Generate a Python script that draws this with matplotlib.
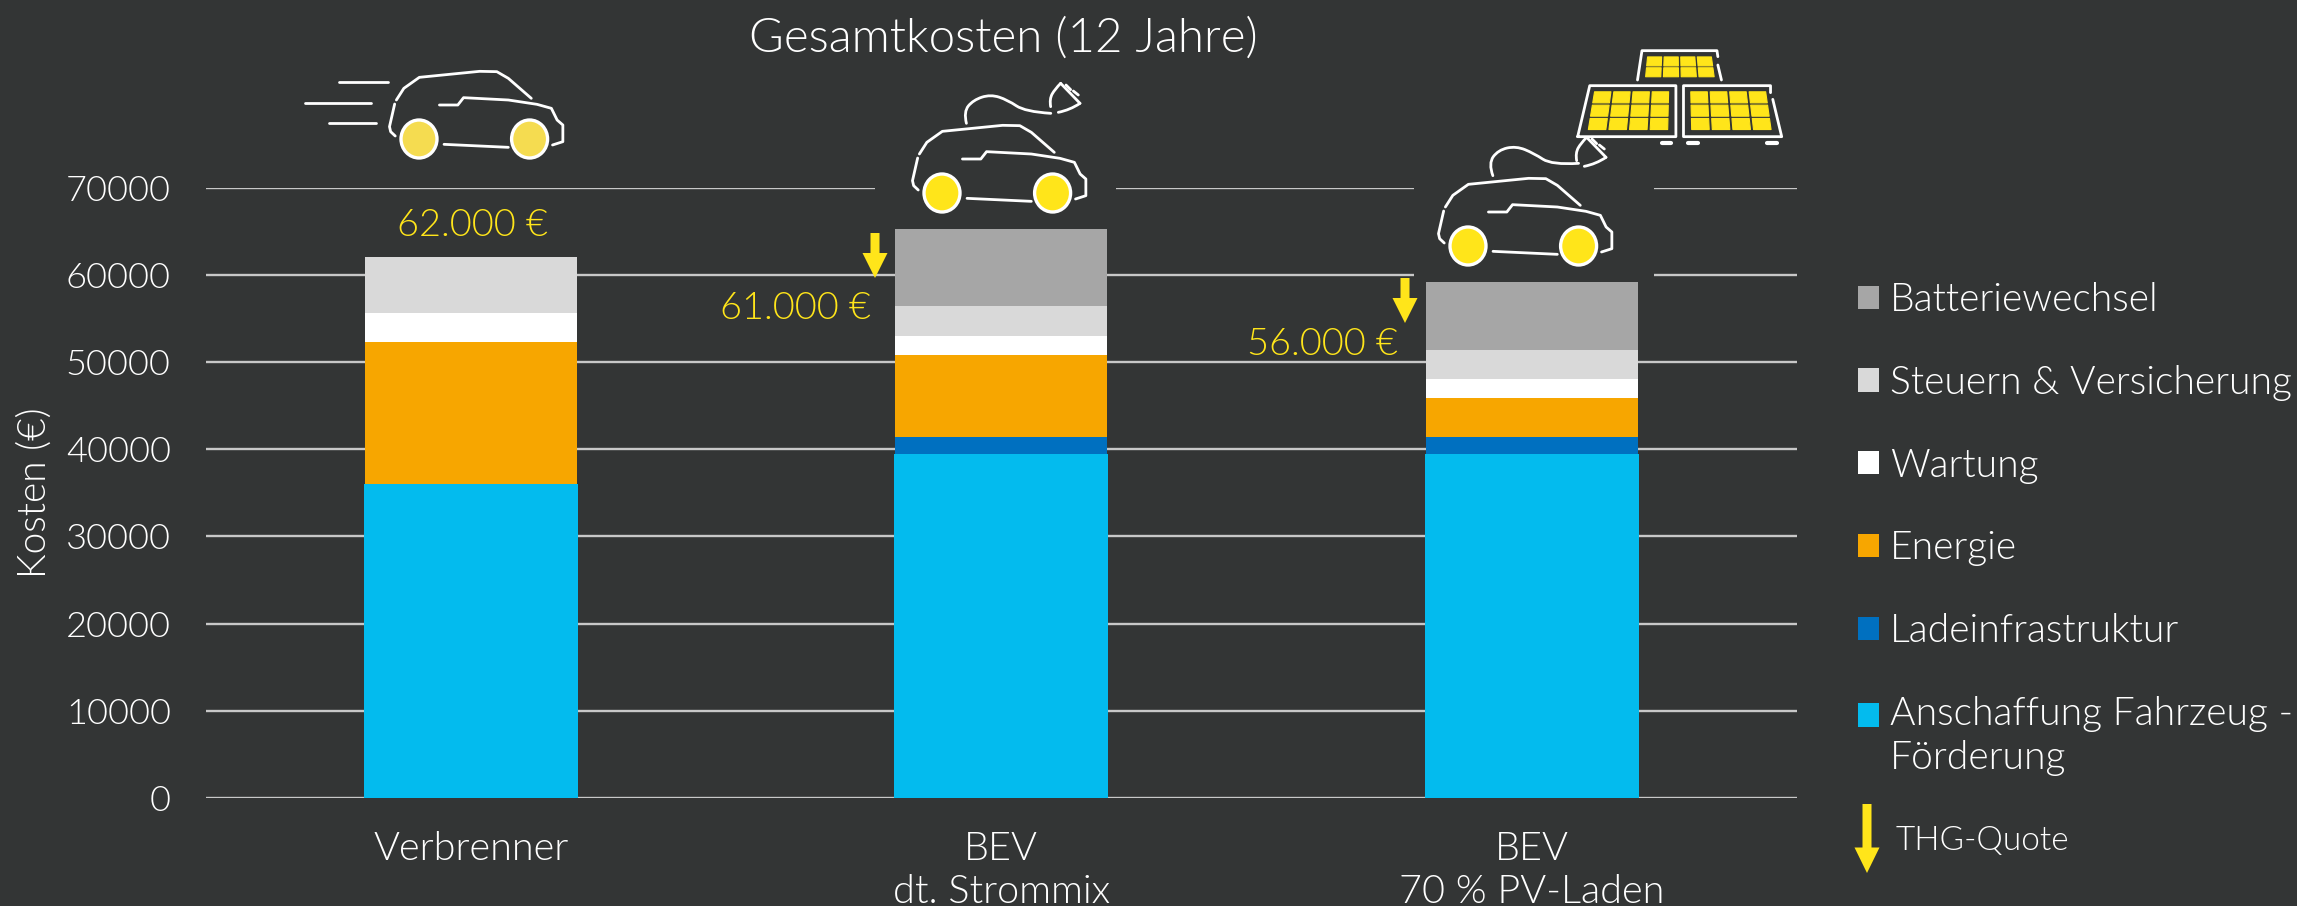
import matplotlib
matplotlib.use("Agg")
import matplotlib.pyplot as plt
import numpy as np
from matplotlib.path import Path
from matplotlib.patches import PathPatch, Ellipse, Polygon, Rectangle

W, H = 2297, 906
BG = "#333535"
YEL = "#FFE51A"

categories = ["Verbrenner", "BEV\ndt. Strommix", "BEV\n70 % PV-Laden"]
anschaffung = [36000, 39500, 39500]
ladeinfra = [0, 1950, 1950]
energie = [16300, 9400, 4450]
wartung = [3350, 2150, 2150]
steuern = [6350, 3450, 3350]
batterie = [0, 8750, 7800]
series_names = ["Anschaffung Fahrzeug -\nFörderung", "Ladeinfrastruktur", "Energie",
                "Wartung", "Steuern & Versicherung", "Batteriewechsel"]
series_colors = ["#03BBEE", "#0070C0", "#F7A600", "#FFFFFF", "#D9D9D9", "#A6A6A6"]
series_widths = [0.4035, 0.4, 0.4, 0.4, 0.4, 0.4]
yticks = [0, 10000, 20000, 30000, 40000, 50000, 60000, 70000]
total_labels = ["62.000 €", "61.000 €", "56.000 €"]

plt.rcParams["font.family"] = ["Lato", "DejaVu Sans"]
plt.rcParams["font.weight"] = 300
plt.rcParams["axes.labelweight"] = 300

fig = plt.figure(figsize=(W / 100, H / 100), dpi=100, facecolor=BG)
ax = fig.add_axes([205.5 / W, 1 - 798 / H, (1797 - 205.5) / W, 610.4 / H], facecolor=BG)
ax.set_xlim(-0.5, 2.5)
ax.set_ylim(0, 70000)
x = np.arange(3)
bottom = np.zeros(3)
containers = []
for vals, name, col, bw in zip([anschaffung, ladeinfra, energie, wartung, steuern, batterie],
                               series_names, series_colors, series_widths):
    c = ax.bar(x, vals, bw, bottom=bottom, color=col, label=name, zorder=3)
    containers.append(c)
    bottom = bottom + np.array(vals)
ax.set_yticks(yticks)
ax.set_xticks(x, categories)
ax.grid(axis="y", color="#C8C8C8", lw=1.7, zorder=1)
ax.set_axisbelow(True)
ax.tick_params(length=0, colors="white", labelsize=26, pad=25)
ax.tick_params(axis="x", pad=24)
for lab in ax.get_xticklabels():
    lab.set_fontsize(28.5)
    lab.set_linespacing(1.22)
for s in ax.spines.values():
    s.set_visible(False)
ax.set_ylabel("Kosten (€)", color="white", fontsize=28, fontweight=300)
ax.yaxis.set_label_coords((53 - 205.5) / (1797 - 205.5), 0.5)

leg = ax.legend(containers[::-1], series_names[::-1], loc="upper left",
                bbox_to_anchor=(1858 / W, 1 - 282 / H), bbox_transform=fig.transFigure,
                frameon=False, prop=dict(family="Lato", weight=300, size=28.1),
                labelspacing=1.2, handlelength=0.533, handleheight=0.533, handletextpad=0.28,
                borderpad=0, borderaxespad=0, labelcolor="white")
for t in leg.get_texts():
    t.set_linespacing(1.28)
# the square of the two-line entry sits on its first line
first = leg.legend_handles[-1]
first.set_y(first.get_y() + 15.8)

# overlay in pixel coordinates for title, annotations and pictograms
ov = fig.add_axes([0, 0, 1, 1], facecolor="none")
ov.set_xlim(0, W)
ov.set_ylim(H, 0)
ov.axis("off")


def smooth(pts, lw=2.0, col="white", z=6):
    pts = np.array(pts, float)
    verts = [pts[0]]
    codes = [Path.MOVETO]
    for i in range(1, len(pts) - 1):
        mid = (pts[i] + pts[i + 1]) / 2 if i < len(pts) - 2 else pts[i + 1]
        verts += [pts[i], mid]
        codes += [Path.CURVE3, Path.CURVE3]
    if len(pts) == 2:
        verts.append(pts[1])
        codes.append(Path.LINETO)
    ov.add_patch(PathPatch(Path(verts, codes), fc="none", ec=col, lw=lw, capstyle="round",
                           joinstyle="round", zorder=z))


def poly(pts, lw=2.0):
    xs, ys = zip(*pts)
    ov.plot(xs, ys, color="white", lw=lw, solid_capstyle="round", solid_joinstyle="round", zorder=6)


def z1(pts, dx=0, dy=0):
    return [(250 + a / 1.742 + dx, b / 3 + dy) for a, b in pts]


def z2(pts):
    return [(1150 + a / 2.24, b / 3) for a, b in pts]


def car(dx, dy, wheel):
    poly(z1([(255, 300), (268, 265), (295, 232), (400, 214), (430, 215), (450, 235), (490, 295)], dx, dy))
    poly(z1([(330, 315), (362, 315), (372, 293), (450, 300), (500, 313), (525, 325), (535, 360),
             (545, 375), (545, 425), (527, 435)], dx, dy))
    poly(z1([(252, 312), (243, 380), (245, 395), (253, 408)], dx, dy))
    poly(z1([(338, 433), (450, 442)], dx, dy))
    for cx in (419, 529.6):
        ov.add_patch(Ellipse((cx + dx, 139 + dy), 36, 38, fc=wheel, ec="white", lw=2.4, zorder=5))


def plug(dx, dy):
    def p(pts):
        return [(1030 + a / 3 + dx, 75 + b / 3 + dy) for a, b in pts]

    smooth(p([(62, 95), (58, 72), (75, 42), (92, 25)]))
    poly(p([(92, 25), (150, 85)]))
    poly(p([(108, 30), (122, 44)]))
    poly(p([(130, 48), (145, 60)]))
    smooth(p([(85, 112), (120, 105), (150, 85)]))


def arrow(xc, top, head, tip, hw=25, sw=9):
    ov.add_patch(Polygon([(xc - sw / 2, top), (xc + sw / 2, top), (xc + sw / 2, head), (xc + hw / 2, head),
                          (xc, tip), (xc - hw / 2, head), (xc - sw / 2, head)], fc=YEL, ec="none", zorder=6))


# masks that open the gridlines behind the cars
ov.add_patch(Rectangle((875, 175), 241, 26, fc=BG, ec="none", zorder=2))
ov.add_patch(Rectangle((1414, 175), 240, 105, fc=BG, ec="none", zorder=2))

ov.text(1003, 38.5, "Gesamtkosten (12 Jahre)", color="white", fontsize=34.1, ha="center", va="center")

car(0, 0, "#F5DC50")
for a, b in [((155, 246), (240, 246)), ((95, 310), (210, 310)), ((138, 368), (220, 368))]:
    poly(z1([a, b]))
car(523, 54, YEL)
smooth(z1([(1248, 370), (1243, 335), (1260, 300), (1290, 283), (1320, 300), (1350, 335), (1395, 340)]))
plug(0, 0)
car(1049, 107, YEL)
smooth(z2([(768, 527), (758, 490), (780, 450), (820, 438), (860, 460), (900, 495), (960, 490)]))
plug(526, 54)


def cells(corners, nx, ny):
    tl, tr, br, bl = [np.array(p, float) for p in z2(corners)]
    gx, gy = 0.15, 0.17

    def at(u, v):
        return (1 - v) * ((1 - u) * tl + u * tr) + v * ((1 - u) * bl + u * br)

    for i in range(nx):
        for j in range(ny):
            u0, u1 = (i + gx / 2) / nx, (i + 1 - gx / 2) / nx
            v0, v1 = (j + gy / 2) / ny, (j + 1 - gy / 2) / ny
            ov.add_patch(Polygon([at(u0, v0), at(u1, v0), at(u1, v1), at(u0, v1)], fc=YEL, ec=YEL, lw=0.8,
                                 joinstyle="round", zorder=6))


cells([(1112, 168), (1260, 168), (1267, 233), (1107, 233)], 4, 2)
cells([(993, 272), (1165, 272), (1163, 392), (978, 392)], 4, 3)
cells([(1208, 272), (1382, 272), (1395, 392), (1210, 392)], 4, 3)
poly(z2([(1092, 240), (1102, 152), (1270, 152), (1272, 170)]))
poly(z2([(1272, 195), (1280, 240)]))
poly(z2([(958, 410), (985, 257), (1178, 257), (1178, 410), (958, 410)]))
poly(z2([(1390, 278), (1390, 257), (1195, 257), (1195, 410), (1415, 410), (1395, 298)]))
for a, b in [(1146, 1166), (1205, 1227), (1383, 1405)]:
    poly(z2([(a, 428), (b, 428)]), lw=3)

ov.text(472, 226, total_labels[0], color=YEL, fontsize=27.3, ha="center", va="center")
ov.text(871, 309, total_labels[1], color=YEL, fontsize=27.3, ha="right", va="center")
ov.text(1398, 345, total_labels[2], color=YEL, fontsize=27.3, ha="right", va="center")
arrow(875, 233, 253, 278)
arrow(1405, 278, 298, 323)
arrow(1867, 804, 847.5, 873)
ov.text(1896, 841, "THG-Quote", color="white", fontsize=24, ha="left", va="center")

fig.savefig("out.png", dpi=100, facecolor=BG)
